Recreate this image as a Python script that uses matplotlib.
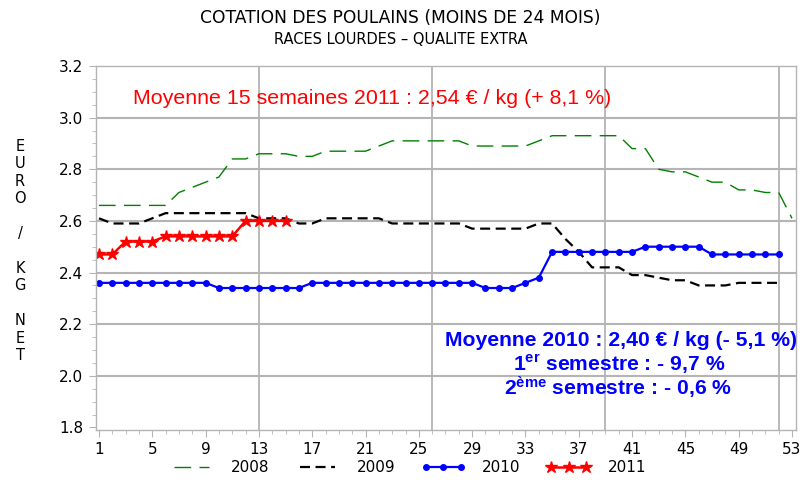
import numpy as np
import matplotlib
matplotlib.use("Agg")
import matplotlib.pyplot as plt

plt.rcParams['font.family'] = ['DejaVu Sans']
plt.rcParams['mathtext.default'] = 'regular'

weeks_2008 = np.arange(1, 54)
prix_2008 = [2.66, 2.66, 2.66, 2.66, 2.66, 2.66, 2.71, 2.73, 2.75, 2.77,
             2.84, 2.84, 2.86, 2.86, 2.86, 2.85, 2.85, 2.87, 2.87, 2.87,
             2.87, 2.89, 2.91, 2.91, 2.91, 2.91, 2.91, 2.91, 2.89, 2.89,
             2.89, 2.89, 2.89, 2.91, 2.93, 2.93, 2.93, 2.93, 2.93, 2.93,
             2.88, 2.88, 2.80, 2.79, 2.79, 2.77, 2.75, 2.75, 2.72, 2.72,
             2.71, 2.71, 2.61]

weeks_2009 = np.arange(1, 53)
prix_2009 = [2.61, 2.59, 2.59, 2.59, 2.61, 2.63, 2.63, 2.63, 2.63, 2.63,
             2.63, 2.63, 2.61, 2.61, 2.61, 2.59, 2.59, 2.61, 2.61, 2.61,
             2.61, 2.61, 2.59, 2.59, 2.59, 2.59, 2.59, 2.59, 2.57, 2.57,
             2.57, 2.57, 2.57, 2.59, 2.59, 2.53, 2.48, 2.42, 2.42, 2.42,
             2.39, 2.39, 2.38, 2.37, 2.37, 2.35, 2.35, 2.35, 2.36, 2.36,
             2.36, 2.36]

weeks_2010 = np.arange(1, 53)
prix_2010 = [2.36, 2.36, 2.36, 2.36, 2.36, 2.36, 2.36, 2.36, 2.36, 2.34,
             2.34, 2.34, 2.34, 2.34, 2.34, 2.34, 2.36, 2.36, 2.36, 2.36,
             2.36, 2.36, 2.36, 2.36, 2.36, 2.36, 2.36, 2.36, 2.36, 2.34,
             2.34, 2.34, 2.36, 2.38, 2.48, 2.48, 2.48, 2.48, 2.48, 2.48,
             2.48, 2.50, 2.50, 2.50, 2.50, 2.50, 2.47, 2.47, 2.47, 2.47,
             2.47, 2.47]

weeks_2011 = np.arange(1, 16)
prix_2011 = [2.47, 2.47, 2.52, 2.52, 2.52, 2.54, 2.54, 2.54, 2.54, 2.54,
             2.54, 2.60, 2.60, 2.60, 2.60]

xticks = np.arange(1, 54, 4)
yticks = [1.8, 2.0, 2.2, 2.4, 2.6, 2.8, 3.0, 3.2]
quarters = [13, 26, 39, 52]

W, H = 805, 482
fig = plt.figure(figsize=(W / 100, H / 100), dpi=100)
ax = fig.add_axes([95.5 / W, 1 - 430 / H, (796 - 95.5) / W, (430 - 66) / H])

grey = '#b4b4b4'
for q in quarters:
    ax.axvline(q, color=grey, lw=1.3, zorder=0)
for v in yticks[1:-1]:
    ax.axhline(v, color=grey, lw=1.5, zorder=0)

ax.plot(weeks_2008, prix_2008, color='green', lw=1, ls=(0, (12, 6)), label='2008')
ax.plot(weeks_2009, prix_2009, color='black', lw=1.6, ls=(0, (4.5, 2.5)), label='2009')
ax.plot(weeks_2010, prix_2010, color='blue', lw=1.6, marker='o', ms=4, label='2010')
ax.plot(weeks_2011, prix_2011, color='red', lw=1.8, marker='*', ms=9, label='2011')

ax.set_xlim(0.74, 53.3)
ax.set_ylim(1.79, 3.2)
ax.set_xticks(xticks)
ax.set_xticks(np.arange(1, 54), minor=True)
ax.set_yticks(yticks)
ax.set_yticks(np.arange(1.8, 3.201, 0.05), minor=True)
ax.set_yticklabels([f'{v:.1f}' for v in yticks])
ax.tick_params(axis='both', which='major', length=5, color=grey, labelsize=11, pad=4)
ax.tick_params(axis='both', which='minor', length=3, color=grey)
for s in ax.spines.values():
    s.set_color(grey)
    s.set_linewidth(1)

fig.text(400 / W, 1 - 18 / H, 'COTATION DES POULAINS (MOINS DE 24 MOIS)',
         ha='center', va='center', fontsize=12.3)
fig.text(401 / W, 1 - 39 / H, 'RACES LOURDES \u2013 QUALITE EXTRA',
         ha='center', va='center', fontsize=10.5)
fig.text(20 / W, 1 - 251 / H, 'E\nU\nR\nO\n\n/\n\nK\nG\n\nN\nE\nT',
         ha='center', va='center', fontsize=10.5, linespacing=1.2)

fig.text(372 / W, 1 - 99 / H, 'Moyenne 15 semaines 2011 : 2,54 \u20ac / kg (+ 8,1 %)',
         ha='center', va='center', fontsize=15.4, color='red', family='Liberation Sans')
blue_txt = dict(ha='center', va='center', fontsize=15.2, color='blue',
                family='Liberation Sans', weight='bold')
fig.text(621 / W, 1 - 341 / H, 'Moyenne 2010 : 2,40 \u20ac / kg (- 5,1 %)', **blue_txt)
fig.text(619 / W, 1 - 364 / H, '1$^{er}$ semestre : - 9,7 %', **blue_txt)
fig.text(618 / W, 1 - 388 / H, '2$^{\u00e8me}$ semestre : - 0,6 %', **blue_txt)

fig.legend(loc='center', bbox_to_anchor=(408 / W, 1 - 468 / H), ncol=4,
           frameon=False, fontsize=11, handlelength=2.9, columnspacing=1.7,
           numpoints=3, handletextpad=1.1)

fig.savefig('out.png', dpi=100)
